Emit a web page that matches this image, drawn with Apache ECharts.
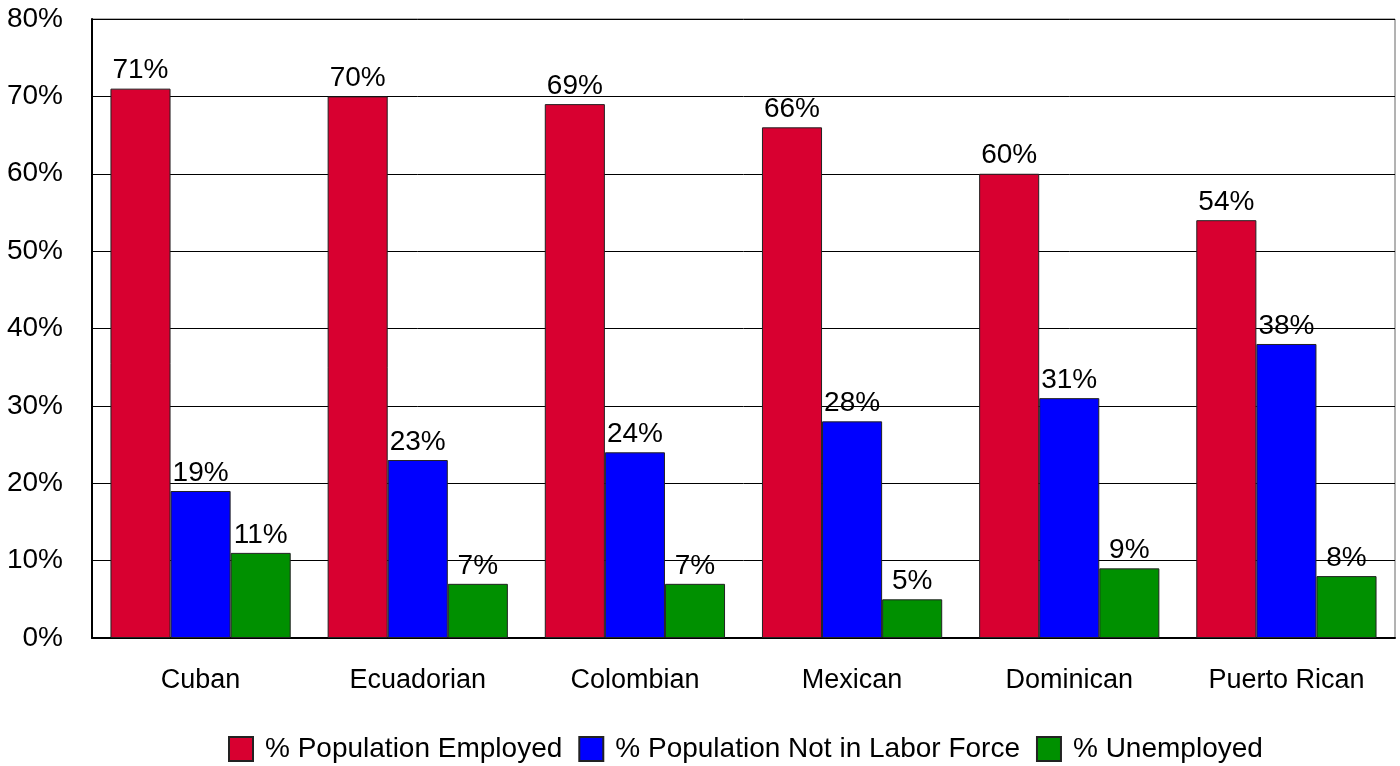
<!DOCTYPE html>
<html>
<head>
<meta charset="UTF-8">
<title>Labor force</title>
<script src="https://cdn.jsdelivr.net/npm/echarts@6/dist/echarts.min.js"></script>
<style>
  html, body { margin: 0; padding: 0; background: #fff; }
  #chart { width: 1400px; height: 766px; }
</style>
</head>
<body>
<div id="chart"></div>
<script>
var groups = ['Cuban', 'Ecuadorian', 'Colombian', 'Mexican', 'Dominican', 'Puerto Rican'];
var employed = [71, 70, 69, 66, 60, 54];
var notInLabor = [19, 23, 24, 28, 31, 38];
var unemployed = [11, 7, 7, 5, 9, 8];
var seriesNames = ['% Population Employed', '% Population Not in Labor Force', '% Unemployed'];
var colors = ['#d80030', '#0000ff', '#009000'];

var font = '"Liberation Sans", Arial, sans-serif';

function bar(name, values, color) {
    return {
        name: name,
        type: 'bar',
        data: values,
        barGap: '0%',
        barCategoryGap: '17%',
        itemStyle: { color: color, borderColor: '#222', borderWidth: 1 },
        label: {
            show: true,
            position: 'top',
            distance: 4,
            formatter: '{c}%',
            color: '#000',
            fontFamily: font,
            fontSize: 28
        }
    };
}

var chart = echarts.init(document.getElementById('chart'));
chart.setOption({
    backgroundColor: '#fff',
    animation: false,
    color: colors,
    grid: {
        left: 92, right: 5, top: 19, bottom: 128,
        show: true, borderColor: '#666', borderWidth: 1
    },
    legend: {
        top: 730,
        left: 223,
        itemWidth: 24,
        itemHeight: 24,
        itemGap: 16,
        icon: 'rect',
        textStyle: { fontFamily: font, fontSize: 28, color: '#000', padding: [0, 0, 0, 7] },
        data: seriesNames
    },
    xAxis: {
        type: 'category',
        data: groups,
        axisLine: { lineStyle: { color: '#000', width: 2 } },
        axisTick: { show: false },
        axisLabel: { color: '#000', fontFamily: font, fontSize: 27, margin: 29 }
    },
    yAxis: {
        type: 'value',
        min: 0, max: 80, interval: 10,
        axisLine: { show: true, lineStyle: { color: '#000', width: 2 } },
        axisTick: { show: false },
        axisLabel: { formatter: '{value}%', color: '#000', fontFamily: font, fontSize: 28, margin: 29 },
        splitLine: { lineStyle: { color: '#000', width: 1 } }
    },
    series: [
        bar(seriesNames[0], employed, colors[0]),
        bar(seriesNames[1], notInLabor, colors[1]),
        bar(seriesNames[2], unemployed, colors[2])
    ]
});
</script>
</body>
</html>
